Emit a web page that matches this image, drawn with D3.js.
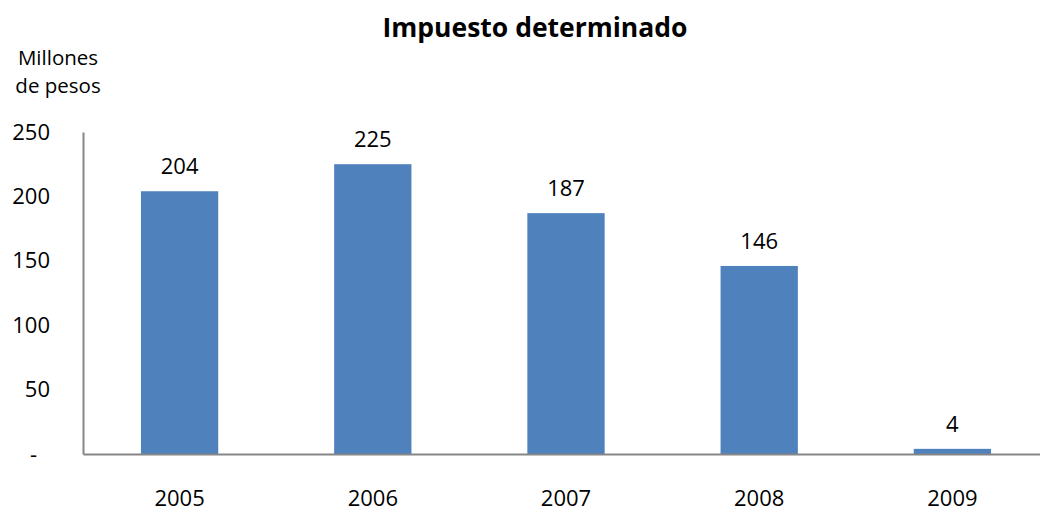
<!DOCTYPE html>
<html lang="es">
<meta charset="utf-8">
<head>
<script src="https://d3js.org/d3.v7.min.js"></script>
<style>
  body { margin: 0; background: #fff; }
  text { font-family: "Open Sans", sans-serif; fill: #000; }
</style>
</head>
<body>
<div id="chart"></div>
<script>

// data
var years = ["2005", "2006", "2007", "2008", "2009"];
var values = [204, 225, 187, 146, 4];
var yTicks = [0, 50, 100, 150, 200, 250];

var width = 1040, height = 512;
// plot edges (note: "top" is taken by window.top)
var plotL = 83, plotR = 1049, plotT = 132, plotB = 454;

var svg = d3.select("#chart").append("svg")
    .attr("width", width)
    .attr("height", height);

var x = d3.scaleBand()
    .domain(years)
    .range([plotL, plotR])
    .paddingInner(0.6)
    .paddingOuter(0.3);

var y = d3.scaleLinear()
    .domain([0, 250])
    .range([plotB, plotT]);

// title
svg.append("text")
    .attr("x", 535)
    .attr("y", 37)
    .attr("text-anchor", "middle")
    .style("font-weight", "bold")
    .style("font-size", "26.5px")
    .text("Impuesto determinado");

// unit label
svg.append("text")
    .attr("x", 58).attr("y", 65)
    .attr("text-anchor", "middle")
    .style("font-size", "20.5px")
    .text("Millones");
svg.append("text")
    .attr("x", 58).attr("y", 93)
    .attr("text-anchor", "middle")
    .style("font-size", "20.5px")
    .text("de pesos");

// bars
svg.selectAll("rect.bar")
    .data(values)
    .enter()
    .append("rect")
      .attr("class", "bar")
      .attr("x", (d, i) => x(years[i]))
      .attr("y", d => y(d))
      .attr("width", x.bandwidth())
      .attr("height", d => y(0) - y(d))
      .style("fill", "#4F81BD");

// value labels
svg.selectAll("text.val")
    .data(values)
    .enter()
    .append("text")
      .attr("class", "val")
      .attr("x", (d, i) => x(years[i]) + x.bandwidth() / 2)
      .attr("y", d => y(d) - 17)
      .attr("text-anchor", "middle")
      .style("font-size", "22px")
      .text(d => d);

// y axis
var yAxis = svg.append("g")
    .attr("transform", "translate(" + plotL + ",0)")
    .call(d3.axisLeft(y).tickValues(yTicks).tickSize(0).tickPadding(33)
        .tickFormat(d => d === 0 ? "-" : d));
yAxis.select(".domain").attr("stroke", "#868686").attr("stroke-width", 2);
yAxis.selectAll("text")
    .style("font-size", "22px")
    .style("font-family", "'Open Sans', sans-serif")
    .attr("dx", d => d === 0 ? -13 : 0);

// x axis
var xAxis = svg.append("g")
    .attr("transform", "translate(0," + plotB + ")")
    .call(d3.axisBottom(x).tickSize(0).tickPadding(36).tickSizeOuter(0));
xAxis.select(".domain").attr("stroke", "#868686").attr("stroke-width", 2);
xAxis.selectAll("text")
    .style("font-size", "22px")
    .style("font-family", "'Open Sans', sans-serif");

</script>
</body>
</html>
